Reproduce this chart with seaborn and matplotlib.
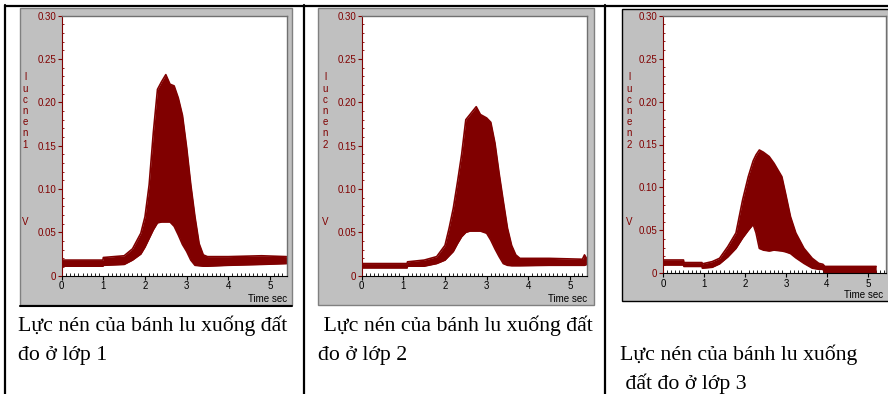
import numpy as np
import matplotlib
matplotlib.use('Agg')
import matplotlib.pyplot as plt
import seaborn as sns
from matplotlib.patches import Rectangle
from matplotlib.lines import Line2D
from matplotlib.ticker import MultipleLocator

# Du lieu doc tu hinh: thoi gian (s), bien tren va bien duoi cua dai tin hieu (V)
t1 = [0, 0.99, 1.0, 1.5, 1.7, 1.9, 2.0, 2.1, 2.2, 2.3, 2.4, 2.5, 2.6, 2.7, 2.8,
      2.9, 3.0, 3.1, 3.2, 3.3, 3.4, 3.5, 4.0, 4.8, 5.4]
up1 = [0.018, 0.018, 0.021, 0.023, 0.031, 0.049, 0.068, 0.105, 0.165, 0.215, 0.224,
       0.232, 0.221, 0.219, 0.205, 0.185, 0.148, 0.105, 0.068, 0.037, 0.024, 0.022,
       0.022, 0.023, 0.022]
lo1 = [0.011, 0.011, 0.012, 0.013, 0.018, 0.025, 0.033, 0.043, 0.053, 0.061, 0.062,
       0.062, 0.062, 0.057, 0.047, 0.036, 0.028, 0.018, 0.012, 0.0115, 0.011, 0.011,
       0.012, 0.013, 0.014]

t2 = [0, 1.09, 1.1, 1.5, 1.8, 2.0, 2.1, 2.2, 2.3, 2.4, 2.5, 2.6, 2.75, 2.85, 3.0,
      3.1, 3.2, 3.3, 3.4, 3.5, 3.6, 3.7, 3.8, 4.5, 5.3, 5.35, 5.4]
up2 = [0.014, 0.014, 0.016, 0.018, 0.022, 0.035, 0.055, 0.078, 0.108, 0.140, 0.180,
       0.186, 0.195, 0.186, 0.182, 0.177, 0.153, 0.118, 0.086, 0.055, 0.035, 0.024,
       0.020, 0.020, 0.019, 0.024, 0.020]
lo2 = [0.009, 0.009, 0.011, 0.011, 0.014, 0.018, 0.023, 0.028, 0.037, 0.045, 0.050,
       0.0515, 0.0515, 0.0515, 0.049, 0.041, 0.031, 0.022, 0.014, 0.012, 0.0115,
       0.0115, 0.0115, 0.012, 0.012, 0.012, 0.013]

t3 = [0, 0.5, 0.51, 0.95, 0.96, 1.2, 1.38, 1.58, 1.78, 1.94, 2.08, 2.2, 2.27, 2.35,
      2.45, 2.59, 2.71, 2.9, 2.99, 3.11, 3.24, 3.44, 3.64, 3.8, 3.9, 3.95, 5.2]
up3 = [0.0155, 0.0155, 0.0125, 0.0125, 0.011, 0.0136, 0.0175, 0.031, 0.047, 0.085,
       0.1125, 0.131, 0.138, 0.1436, 0.141, 0.136, 0.128, 0.1125, 0.093, 0.066, 0.047,
       0.029, 0.0175, 0.0116, 0.0105, 0.008, 0.008]
lo3 = [0.0097, 0.0097, 0.008, 0.008, 0.006, 0.007, 0.011, 0.019, 0.029, 0.041, 0.050,
       0.057, 0.047, 0.029, 0.027, 0.026, 0.027, 0.026, 0.025, 0.023, 0.018, 0.0115,
       0.006, 0.0047, 0.0047, 0.0008, 0.0008]

ytick_vals = [0, 0.05, 0.10, 0.15, 0.20, 0.25, 0.30]
ytick_labels = ['0', '0.05', '0.10', '0.15', '0.20', '0.25', '0.30']
xtick_vals = [0, 1, 2, 3, 4, 5]
xtick_labels = ['0', '1', '2', '3', '4', '5']
channel_names = ['lucnen1', 'lucnen2', 'lucnen2']
captions = [
    ['Lực nén của bánh lu xuống đất', 'đo ở lớp 1'],
    [' Lực nén của bánh lu xuống đất', 'đo ở lớp 2'],
    ['Lực nén của bánh lu xuống', ' đất đo ở lớp 3'],
]

RED = '#800000'
GRAY = '#c0c0c0'
W, H = 888, 394

sns.set_style('white')
plt.rcParams['font.family'] = ['Liberation Sans', 'DejaVu Sans']

fig = plt.figure(figsize=(W / 100, H / 100), dpi=100)


def fx(x):
    return x / W


def fy(y):
    return 1 - y / H


# bo cuc (pixel): khung xam, vung ve, xmax, vi tri chu
layout = [
    dict(box=(20, 8, 292, 305), area=(61.7, 15.7, 287, 275.7), xmax=5.41,
         ylab_x=25, time_x=287, time_y=299, cap_x=[18, 18], cap_y=[331, 360]),
    dict(box=(318, 8, 594, 305), area=(361.7, 15.7, 587, 275.7), xmax=5.41,
         ylab_x=325, time_x=587, time_y=299, cap_x=[318, 318], cap_y=[331, 360]),
    dict(box=(622, 9, 900, 301), area=(663, 15.7, 886, 273.3), xmax=5.44,
         ylab_x=629, time_x=883, time_y=295, cap_x=[620, 620], cap_y=[360, 389]),
]
series = [(t1, up1, lo1), (t2, up2, lo2), (t3, up3, lo3)]

for i, (lay, (t, up, lo)) in enumerate(zip(layout, series)):
    l, tp, r, b = lay['box']
    edge = 'black' if i == 2 else '#808080'
    fig.add_artist(Rectangle((fx(l), fy(b)), (r - l) / W, (b - tp) / H,
                             transform=fig.transFigure, facecolor=GRAY,
                             edgecolor=edge, lw=1, zorder=-2))
    if i == 0:
        fig.add_artist(Line2D([fx(l), fx(r)], [fy(b + 1)] * 2, transform=fig.transFigure,
                              color='black', lw=1.5, zorder=-1))

    al, at, ar, ab = lay['area']
    ax = fig.add_axes([fx(al), fy(ab), (ar - al) / W, (ab - at) / H])
    ax.set_facecolor('white')
    ax.fill_between(t, lo, up, color=RED, lw=0)
    sns.lineplot(x=t, y=up, ax=ax, color=RED, lw=1.2)
    sns.lineplot(x=t, y=lo, ax=ax, color=RED, lw=1.2)

    ax.set_xlim(0, lay['xmax'])
    ax.set_ylim(0, 0.30)
    ax.set_yticks(ytick_vals)
    ax.set_yticklabels(ytick_labels)
    ax.set_xticks(xtick_vals)
    ax.set_xticklabels(xtick_labels)
    ax.yaxis.set_minor_locator(MultipleLocator(0.01))
    ax.xaxis.set_minor_locator(MultipleLocator(0.1))
    ax.tick_params(axis='y', which='major', direction='out', length=3, width=0.8,
                   pad=1, colors=RED, labelsize=7, left=True)
    ax.tick_params(axis='y', which='minor', direction='in', length=1.5, width=0.6,
                   colors=RED, left=True)
    ax.tick_params(axis='x', which='major', direction='out', length=3, width=0.8,
                   pad=1, colors='black', labelsize=7, bottom=True)
    ax.tick_params(axis='x', which='minor', direction='in', length=2, width=0.6,
                   colors='black', bottom=True)
    for side in ['top', 'right']:
        ax.spines[side].set_color('#707070')
        ax.spines[side].set_linewidth(1)
    ax.spines['left'].set_color(RED)
    ax.spines['left'].set_linewidth(0.8)
    ax.spines['bottom'].set_color('black')
    ax.spines['bottom'].set_linewidth(0.8)
    ax.set_xlabel('')
    ax.set_ylabel('')

    # nhan truc doc xep chong chu
    fig.text(fx(lay['ylab_x']), fy(111), '\n'.join(channel_names[i]), color=RED,
             fontsize=7, ha='center', va='center', linespacing=1.15)
    fig.text(fx(lay['ylab_x']), fy(222), 'V', color=RED, fontsize=7,
             ha='center', va='center')
    fig.text(fx(lay['time_x']), fy(lay['time_y']), 'Time sec', color='black',
             fontsize=7, ha='right', va='center')

    for j, line in enumerate(captions[i]):
        fig.text(fx(lay['cap_x'][j]), fy(lay['cap_y'][j]), line,
                 family=['Liberation Serif', 'DejaVu Serif'], fontsize=15.7,
                 ha='left', va='baseline', color='black')

# duong ke bang
fig.add_artist(Line2D([fx(5), 1], [fy(5.5)] * 2, transform=fig.transFigure,
                      color='black', lw=1.6))
for xv in [5, 303.5, 605]:
    fig.add_artist(Line2D([fx(xv)] * 2, [fy(5), 0], transform=fig.transFigure,
                          color='black', lw=1.6))

fig.savefig('out.png', dpi=100)
